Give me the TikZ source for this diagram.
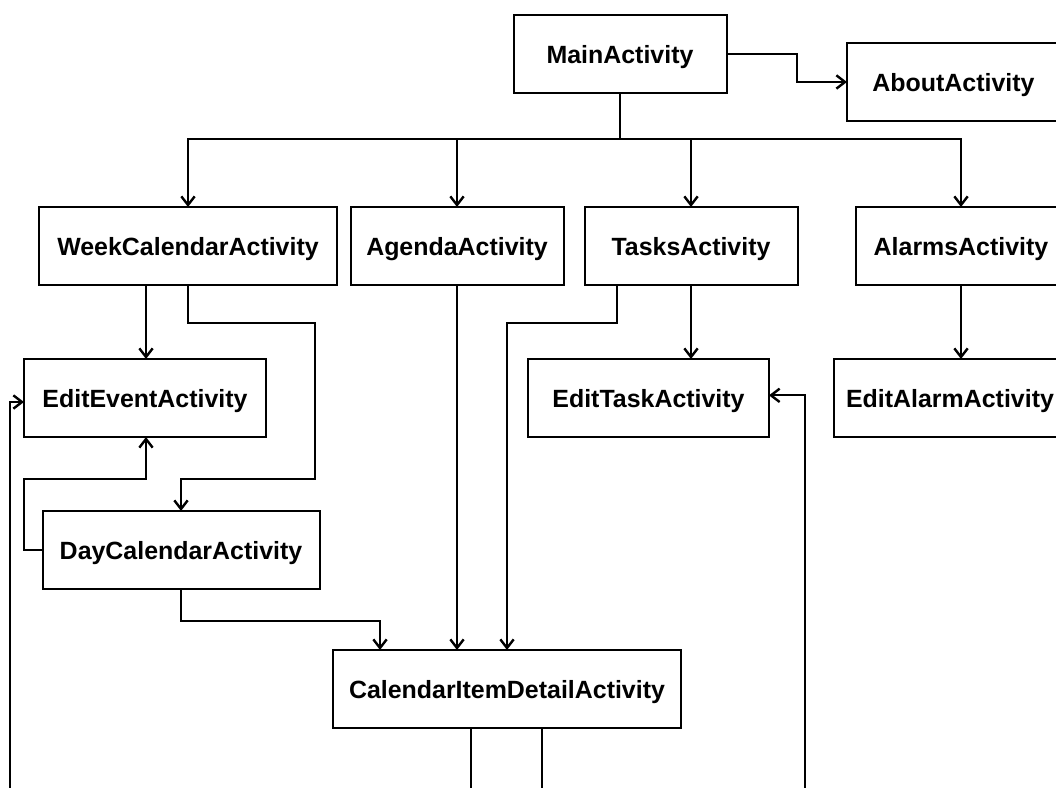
\documentclass[tikz,border=0pt]{standalone}
\usepackage{fontspec}
\setmainfont{Liberation Sans}
\usepackage{tikz}
\usetikzlibrary{arrows.meta}

\begin{document}
\begin{tikzpicture}[x=0.75pt, y=-0.75pt,
  act/.style={draw, line width=1.5pt, inner sep=0pt, outer sep=0pt,
    minimum height=58.5pt, text depth=0pt,
    font=\fontsize{18.7}{22}\selectfont\bfseries},
  link/.style={line width=1.5pt},
  arr/.style={link, -{Straight Barb[length=6.5pt, width=10pt, line width=1.8pt]}}]
\useasboundingbox (0,0) rectangle (1056,788);
\clip (0,0) rectangle (1056,788);
% activities
\node[act, minimum width=159.75pt] (main) at (620,54) {MainActivity};
\node[act, minimum width=159.75pt] (about) at (953.5,82) {AboutActivity};
\node[act, minimum width=223.5pt] (week) at (188,246) {WeekCalendarActivity};
\node[act, minimum width=159.75pt] (agenda) at (457,246) {AgendaActivity};
\node[act, minimum width=159.75pt] (tasks) at (691,246) {TasksActivity};
\node[act, minimum width=158.25pt] (alarms) at (961,246) {AlarmsActivity};
\node[act, minimum width=181.5pt] (edevent) at (145,398) {EditEventActivity};
\node[act, minimum width=180.75pt] (edtask) at (648.5,398) {EditTaskActivity};
\node[act, minimum width=174pt] (edalarm) at (950,398) {EditAlarmActivity};
\node[act, minimum width=207.75pt] (day) at (181,550) {DayCalendarActivity};
\node[act, minimum width=261pt] (detail) at (507,689) {CalendarItemDetailActivity};
\coordinate (leftin) at (10,800);
\coordinate (rightin) at (805,800);
% main menu
\draw[arr] (main.east) -- ++(70,0) |- (about.west);
\draw[link] (main.south) -- ++(0,46) coordinate (bus);
\draw[arr] (bus) -| (week.north);
\draw[arr] (bus) -| (agenda.north);
\draw[arr] (bus) -| (tasks.north);
\draw[arr] (bus) -| (alarms.north);
% calendar
\draw[arr] (146,0 |- week.south) -- (146,0 |- edevent.north);
\draw[arr] (week.south) |- (315,323) |- (181,479) -- (day.north);
\draw[arr] (day.west) -| (24,479) -| (146,0 |- edevent.south);
\draw[arr] (day.south) |- (380,621) -- (380,0 |- detail.north);
\draw[arr] (agenda.south) -- (agenda.south |- detail.north);
% tasks and alarms
\draw[arr] (617,0 |- tasks.south) |- (507,323) -- (detail.north);
\draw[arr] (tasks.south) -- (tasks.south |- edtask.north);
\draw[arr] (alarms.south) -- (alarms.south |- edalarm.north);
% detail
\draw[link] (471,0 |- detail.south) -- (471,800);
\draw[link] (542,0 |- detail.south) -- (542,800);
\draw[arr] (leftin) |- ([yshift=-3pt]edevent.west);
\draw[arr] (rightin) |- ([yshift=2pt]edtask.east);
\end{tikzpicture}
\end{document}
